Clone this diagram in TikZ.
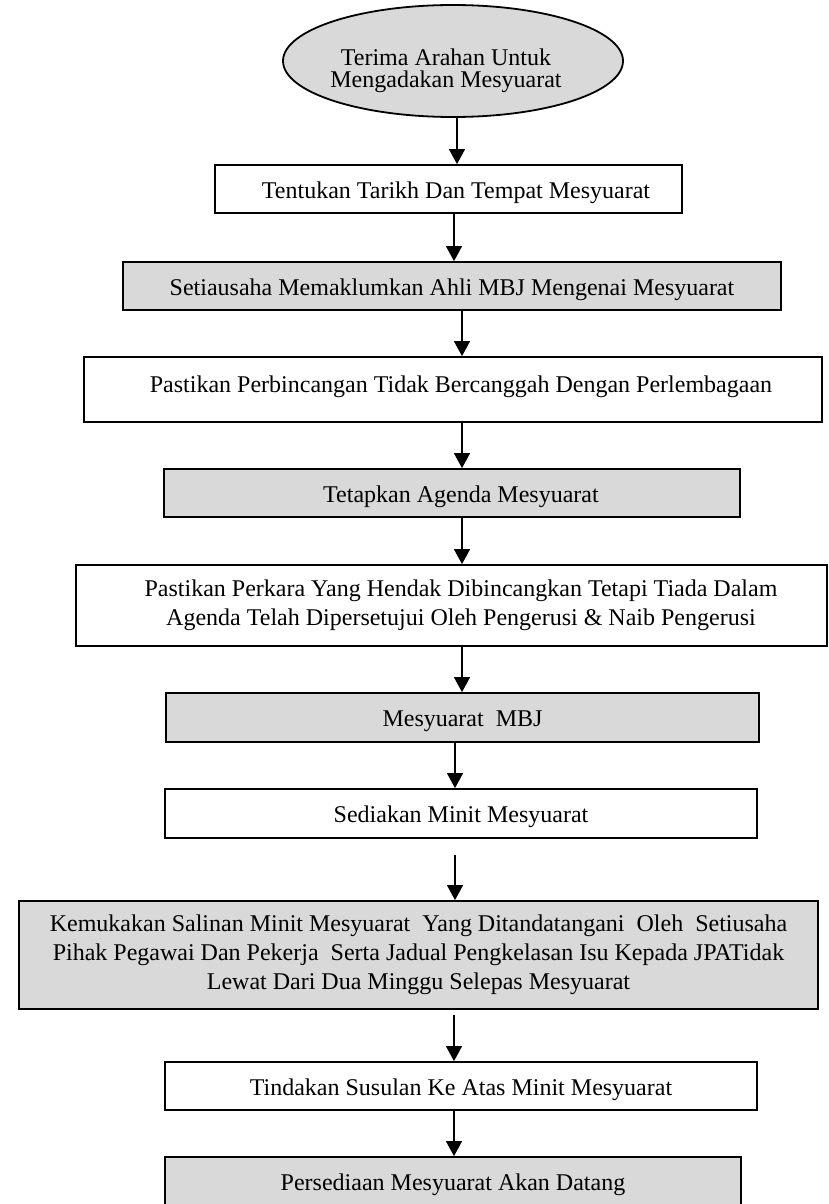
\documentclass[tikz,border=0pt]{standalone}
\usepackage{fontspec}
\setmainfont{Liberation Serif}
\usetikzlibrary{arrows.meta,shapes.geometric}
\definecolor{boxgray}{HTML}{D9D9D9}
\begin{document}
\begin{tikzpicture}[x=1pt,y=-1pt,
  every node/.style={font=\fontsize{24}{29}\selectfont},
  stepbase/.style={draw=black, line width=1.8pt, rectangle, inner sep=0pt, align=center},
  single/.style={stepbase, text height=22pt, text depth=4pt},
  grayfill/.style={fill=boxgray},
  arr/.style={line width=1.3pt, -{Triangle[width=16pt,length=15pt]}}
]
\useasboundingbox (0,0) rectangle (828,1204);

\node[ellipse, draw=black, line width=1.8pt, fill=boxgray, minimum width=340pt, minimum height=112pt, inner sep=0pt] (start) at (453,61) {};
\node[align=center, font=\fontsize{24}{22}\selectfont] (starttext) at ([xshift=-7pt,yshift=-10pt]start.center) {Terima Arahan Untuk\\Mengadakan Mesyuarat};

\node[single, minimum width=467pt, minimum height=48pt] (b1) at (448.5,189) {\hspace*{15pt}Tentukan Tarikh Dan Tempat Mesyuarat};
\node[single, grayfill, minimum width=658pt, minimum height=48pt] (b2) at (452,286) {Setiausaha Memaklumkan Ahli MBJ Mengenai Mesyuarat};
\node[stepbase, text height=13pt, text depth=8pt, minimum width=738pt, minimum height=65pt] (b3) at (453,389.5) {\hspace*{16pt}Pastikan Perbincangan Tidak Bercanggah Dengan Perlembagaan};
\node[single, grayfill, minimum width=576pt, minimum height=48pt] (b4) at (452,493) {\hspace*{18pt}Tetapkan Agenda Mesyuarat};
\node[stepbase, minimum width=751pt, minimum height=81pt] (b5) at (451.5,605.5) {\hspace*{19pt}Pastikan Perkara Yang Hendak Dibincangkan Tetapi Tiada Dalam\\\hspace*{19pt}Agenda Telah Dipersetujui Oleh Pengerusi \& Naib Pengerusi};
\node[single, grayfill, minimum width=593pt, minimum height=49pt] (b6) at (462.5,717.5) {Mesyuarat\ \ MBJ};
\node[single, minimum width=592pt, minimum height=49pt] (b7) at (461,813.5) {Sediakan Minit Mesyuarat};
\node[stepbase, grayfill, minimum width=799pt, minimum height=108pt] (b8) at (418.5,955) {Kemukakan Salinan Minit Mesyuarat\ \ Yang Ditandatangani\ \ Oleh\ \ Setiusaha\\Pihak Pegawai Dan Pekerja\ \ Serta Jadual Pengkelasan Isu Kepada JPATidak\\Lewat Dari Dua Minggu Selepas Mesyuarat};
\node[single, minimum width=592pt, minimum height=48pt] (b9) at (461,1086) {Tindakan Susulan Ke Atas Minit Mesyuarat};
\node[single, grayfill, minimum width=576pt, minimum height=48pt] (b10) at (453,1181) {Persediaan Mesyuarat Akan Datang};

\draw[arr] ([xshift=4pt]start.south) -- ([xshift=8.5pt]b1.north);
\draw[arr] ([xshift=5.5pt]b1.south) -- ([xshift=2pt]b2.north);
\draw[arr] ([xshift=10pt]b2.south) -- ([xshift=9pt]b3.north);
\draw[arr] ([xshift=9pt]b3.south) -- ([xshift=10pt]b4.north);
\draw[arr] ([xshift=10pt]b4.south) -- ([xshift=10.5pt]b5.north);
\draw[arr] ([xshift=10.5pt]b5.south) -- ([xshift=-0.5pt]b6.north);
\draw[arr] ([xshift=-7.5pt]b6.south) -- ([xshift=-6pt]b7.north);
\draw[arr] ([xshift=-6pt,yshift=-16pt]b7.south) -- ([xshift=36.5pt]b8.north);
\draw[arr] ([xshift=35.5pt,yshift=-5pt]b8.south) -- ([xshift=-7pt]b9.north);
\draw[arr] ([xshift=-7pt]b9.south) -- ([xshift=1pt]b10.north);
\end{tikzpicture}
\end{document}
